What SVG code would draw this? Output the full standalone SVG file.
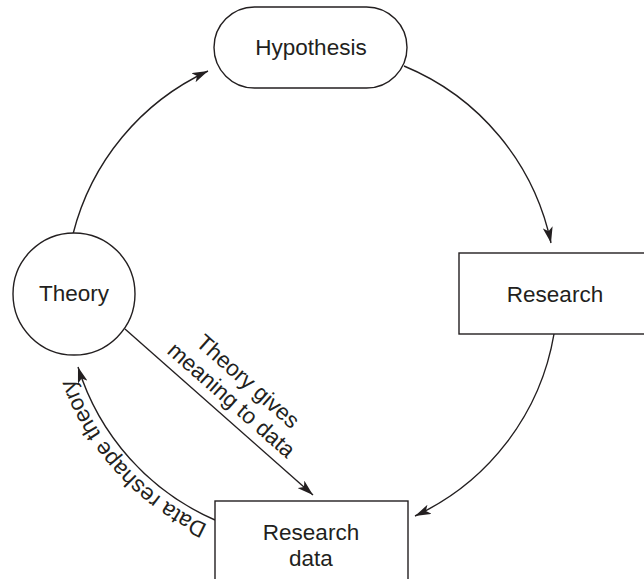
<svg xmlns="http://www.w3.org/2000/svg" width="644" height="579" viewBox="0 0 644 579">
<style>
.node{fill:#fff;stroke:#231f20;stroke-width:1.4}
.lbl{font-family:"Liberation Sans",Arial,sans-serif;font-size:22.5px;fill:#231f20}
.c{text-anchor:middle}
.edge{fill:none;stroke:#231f20;stroke-width:1.4}
</style>
<defs>
<marker id="ah" viewBox="0 0 16 10" refX="16" refY="5" markerWidth="16" markerHeight="10" markerUnits="userSpaceOnUse" orient="auto">
<path d="M0,0 L16,5 L0,10 L4,5 z" fill="#231f20"/>
</marker>
<path id="arcText" d="M 225.5,531.7 A 253 253 0 0 1 62.8,337.9"/>
</defs>
<rect width="644" height="579" fill="#fff"/>
<g id="connectors">
<path class="edge" d="M73,234 A246 246 0 0 1 208,71" marker-end="url(#ah)"/>
<path class="edge" d="M404,66 A246 246 0 0 1 551,243" marker-end="url(#ah)"/>
<path class="edge" d="M554,334 A246 246 0 0 1 415,516" marker-end="url(#ah)"/>
<path class="edge" d="M215,520 A246 246 0 0 1 78,367" marker-end="url(#ah)"/>
<line class="edge" x1="125" y1="329" x2="313" y2="495" marker-end="url(#ah)"/>
<text class="lbl c" transform="translate(243,387) rotate(41.4)"><tspan x="0" y="0">Theory gives</tspan><tspan x="0" y="25">meaning to data</tspan></text>
<text class="lbl c"><textPath href="#arcText" startOffset="121">Data reshape theory</textPath></text>
</g>
<g id="hypothesis">
<rect class="node" x="214" y="7" width="193" height="81" rx="40.5" ry="40.5"/>
<text class="lbl c" x="311" y="55">Hypothesis</text>
</g>
<g id="research">
<rect class="node" x="459" y="253" width="193" height="81"/>
<text class="lbl c" x="555" y="302">Research</text>
</g>
<g id="research-data">
<rect class="node" x="215" y="501" width="193" height="90"/>
<text class="lbl c" x="311" y="540">Research</text>
<text class="lbl c" x="311" y="566">data</text>
</g>
<g id="theory">
<circle class="node" cx="74" cy="294" r="61"/>
<text class="lbl c" x="74" y="301">Theory</text>
</g>
</svg>
